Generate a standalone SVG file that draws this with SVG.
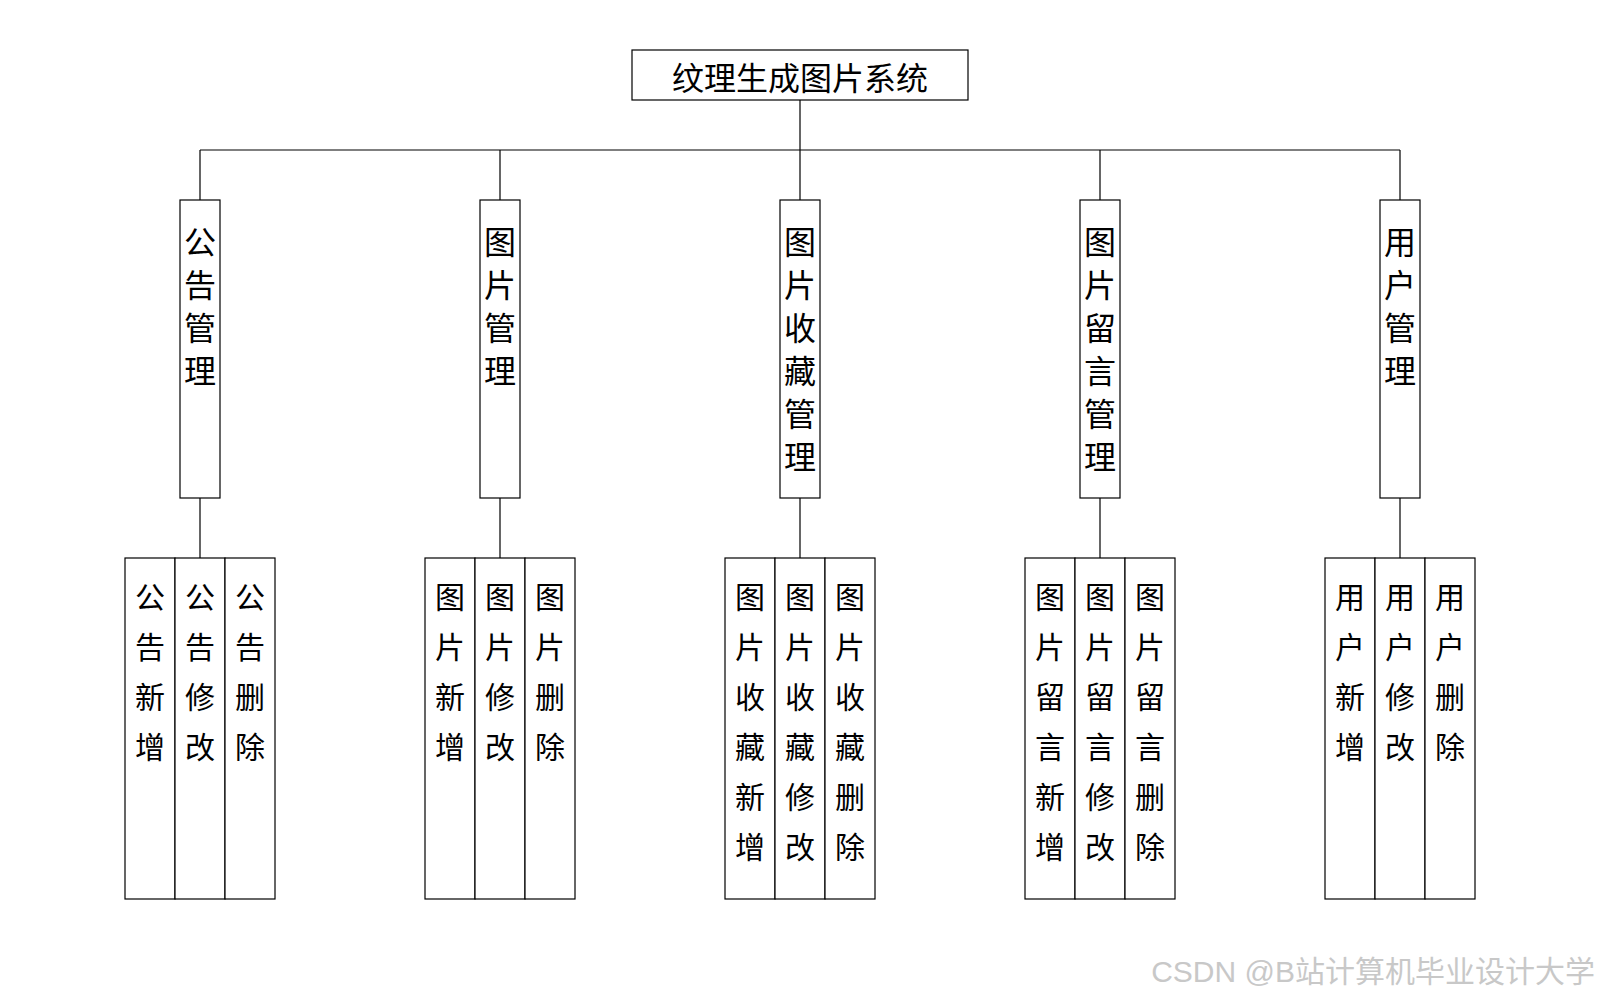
<svg xmlns="http://www.w3.org/2000/svg" width="1600" height="1000" viewBox="0 0 1600 1000">
<style>
.box{fill:#fff;stroke:#000;stroke-width:1.2}
.ln{fill:none;stroke:#000;stroke-width:1.2}
.t0{font-family:"Noto Sans CJK SC","Noto Sans",sans-serif;font-size:32px;fill:#000;text-anchor:middle;dominant-baseline:central}
.t2{font-family:"Noto Sans CJK SC","Noto Sans",sans-serif;font-size:32px;fill:#000;text-anchor:middle;dominant-baseline:central}
.t3{font-family:"Noto Sans CJK SC","Noto Sans",sans-serif;font-size:30px;fill:#000;text-anchor:middle;dominant-baseline:central}
.wm{font-family:"Liberation Sans","Noto Sans CJK SC",sans-serif;font-size:30px;fill:#c8c8c8;text-anchor:end}
</style>
<rect width="1600" height="1000" fill="#fff"/>
<g id="connectors">
<path class="ln" d="M800 100V150M200 150H1400M200 150V200M500 150V200M800 150V200M1100 150V200M1400 150V200"/>
<path class="ln" d="M200 498V558M500 498V558M800 498V558M1100 498V558M1400 498V558"/>
</g>
<g id="root">
<rect class="box" x="632" y="50" width="336" height="50"/>
<text class="t0" x="800" y="76">纹理生成图片系统</text>
</g>
<g id="n1">
<rect class="box" x="180" y="200" width="40" height="298"/>
<text class="t2"><tspan x="200" y="240">公</tspan><tspan x="200" y="283">告</tspan><tspan x="200" y="326">管</tspan><tspan x="200" y="369">理</tspan></text>
</g>
<g id="n2">
<rect class="box" x="480" y="200" width="40" height="298"/>
<text class="t2"><tspan x="500" y="240">图</tspan><tspan x="500" y="283">片</tspan><tspan x="500" y="326">管</tspan><tspan x="500" y="369">理</tspan></text>
</g>
<g id="n3">
<rect class="box" x="780" y="200" width="40" height="298"/>
<text class="t2"><tspan x="800" y="240">图</tspan><tspan x="800" y="283">片</tspan><tspan x="800" y="326">收</tspan><tspan x="800" y="369">藏</tspan><tspan x="800" y="412">管</tspan><tspan x="800" y="455">理</tspan></text>
</g>
<g id="n4">
<rect class="box" x="1080" y="200" width="40" height="298"/>
<text class="t2"><tspan x="1100" y="240">图</tspan><tspan x="1100" y="283">片</tspan><tspan x="1100" y="326">留</tspan><tspan x="1100" y="369">言</tspan><tspan x="1100" y="412">管</tspan><tspan x="1100" y="455">理</tspan></text>
</g>
<g id="n5">
<rect class="box" x="1380" y="200" width="40" height="298"/>
<text class="t2"><tspan x="1400" y="240">用</tspan><tspan x="1400" y="283">户</tspan><tspan x="1400" y="326">管</tspan><tspan x="1400" y="369">理</tspan></text>
</g>
<g id="n1-leaves">
<rect class="box" x="125" y="558" width="50" height="341"/>
<rect class="box" x="175" y="558" width="50" height="341"/>
<rect class="box" x="225" y="558" width="50" height="341"/>
<text class="t3"><tspan x="150" y="595">公</tspan><tspan x="150" y="645">告</tspan><tspan x="150" y="695">新</tspan><tspan x="150" y="745">增</tspan></text>
<text class="t3"><tspan x="200" y="595">公</tspan><tspan x="200" y="645">告</tspan><tspan x="200" y="695">修</tspan><tspan x="200" y="745">改</tspan></text>
<text class="t3"><tspan x="250" y="595">公</tspan><tspan x="250" y="645">告</tspan><tspan x="250" y="695">删</tspan><tspan x="250" y="745">除</tspan></text>
</g>
<g id="n2-leaves">
<rect class="box" x="425" y="558" width="50" height="341"/>
<rect class="box" x="475" y="558" width="50" height="341"/>
<rect class="box" x="525" y="558" width="50" height="341"/>
<text class="t3"><tspan x="450" y="595">图</tspan><tspan x="450" y="645">片</tspan><tspan x="450" y="695">新</tspan><tspan x="450" y="745">增</tspan></text>
<text class="t3"><tspan x="500" y="595">图</tspan><tspan x="500" y="645">片</tspan><tspan x="500" y="695">修</tspan><tspan x="500" y="745">改</tspan></text>
<text class="t3"><tspan x="550" y="595">图</tspan><tspan x="550" y="645">片</tspan><tspan x="550" y="695">删</tspan><tspan x="550" y="745">除</tspan></text>
</g>
<g id="n3-leaves">
<rect class="box" x="725" y="558" width="50" height="341"/>
<rect class="box" x="775" y="558" width="50" height="341"/>
<rect class="box" x="825" y="558" width="50" height="341"/>
<text class="t3"><tspan x="750" y="595">图</tspan><tspan x="750" y="645">片</tspan><tspan x="750" y="695">收</tspan><tspan x="750" y="745">藏</tspan><tspan x="750" y="795">新</tspan><tspan x="750" y="845">增</tspan></text>
<text class="t3"><tspan x="800" y="595">图</tspan><tspan x="800" y="645">片</tspan><tspan x="800" y="695">收</tspan><tspan x="800" y="745">藏</tspan><tspan x="800" y="795">修</tspan><tspan x="800" y="845">改</tspan></text>
<text class="t3"><tspan x="850" y="595">图</tspan><tspan x="850" y="645">片</tspan><tspan x="850" y="695">收</tspan><tspan x="850" y="745">藏</tspan><tspan x="850" y="795">删</tspan><tspan x="850" y="845">除</tspan></text>
</g>
<g id="n4-leaves">
<rect class="box" x="1025" y="558" width="50" height="341"/>
<rect class="box" x="1075" y="558" width="50" height="341"/>
<rect class="box" x="1125" y="558" width="50" height="341"/>
<text class="t3"><tspan x="1050" y="595">图</tspan><tspan x="1050" y="645">片</tspan><tspan x="1050" y="695">留</tspan><tspan x="1050" y="745">言</tspan><tspan x="1050" y="795">新</tspan><tspan x="1050" y="845">增</tspan></text>
<text class="t3"><tspan x="1100" y="595">图</tspan><tspan x="1100" y="645">片</tspan><tspan x="1100" y="695">留</tspan><tspan x="1100" y="745">言</tspan><tspan x="1100" y="795">修</tspan><tspan x="1100" y="845">改</tspan></text>
<text class="t3"><tspan x="1150" y="595">图</tspan><tspan x="1150" y="645">片</tspan><tspan x="1150" y="695">留</tspan><tspan x="1150" y="745">言</tspan><tspan x="1150" y="795">删</tspan><tspan x="1150" y="845">除</tspan></text>
</g>
<g id="n5-leaves">
<rect class="box" x="1325" y="558" width="50" height="341"/>
<rect class="box" x="1375" y="558" width="50" height="341"/>
<rect class="box" x="1425" y="558" width="50" height="341"/>
<text class="t3"><tspan x="1350" y="595">用</tspan><tspan x="1350" y="645">户</tspan><tspan x="1350" y="695">新</tspan><tspan x="1350" y="745">增</tspan></text>
<text class="t3"><tspan x="1400" y="595">用</tspan><tspan x="1400" y="645">户</tspan><tspan x="1400" y="695">修</tspan><tspan x="1400" y="745">改</tspan></text>
<text class="t3"><tspan x="1450" y="595">用</tspan><tspan x="1450" y="645">户</tspan><tspan x="1450" y="695">删</tspan><tspan x="1450" y="745">除</tspan></text>
</g>
<text class="wm" x="1595" y="982">CSDN @B站计算机毕业设计大学</text>
</svg>
